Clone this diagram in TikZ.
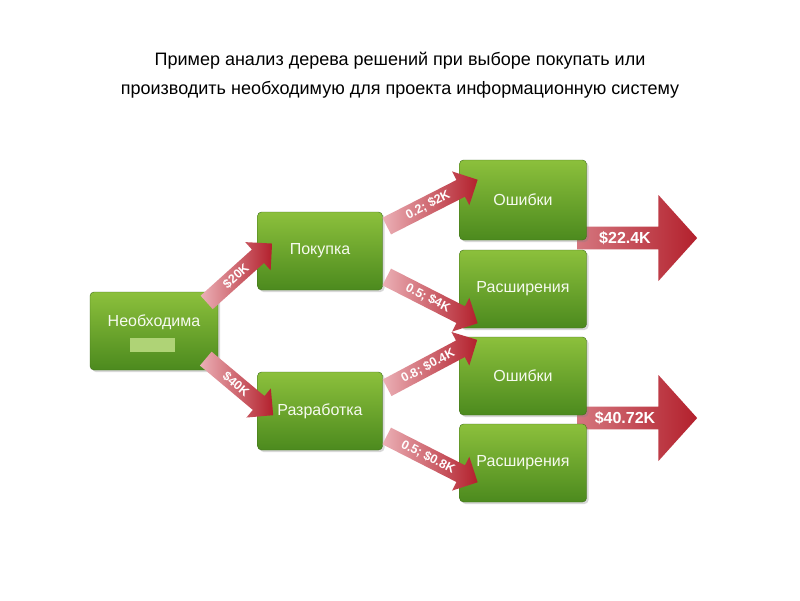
\documentclass[tikz,border=0pt]{standalone}
\usepackage{fontspec}
\setmainfont{Liberation Sans}
\usetikzlibrary{shapes.arrows,shadows}
\definecolor{gtop}{HTML}{8CC03C}
\definecolor{gbot}{HTML}{4C8A1E}
\definecolor{apink}{HTML}{EBB0B6}
\definecolor{ared}{HTML}{B3202C}
\tikzset{
  box/.style={rounded corners=4pt, top color=gtop, bottom color=gbot, draw=gbot!80!black, line width=0.4pt,
    drop shadow={opacity=0.3,shadow xshift=2pt,shadow yshift=-2pt}, text=white!92!gtop, font=\fontsize{16}{18}\selectfont, inner sep=0pt},
  sarrow/.style={single arrow, single arrow head extend=8pt, single arrow tip angle=90, left color=apink, right color=ared, draw=none,
    minimum width=38pt, minimum height=#1, inner sep=2pt, text=white, font=\fontsize{12.5}{12.5}\selectfont\bfseries},
  barrow/.style={single arrow, single arrow head extend=24pt, single arrow tip angle=96, left color=apink!60!ared, right color=ared, draw=none,
    minimum width=86pt, minimum height=120pt, inner sep=2pt, text=white, font=\fontsize{16}{16}\selectfont\bfseries},
}
\begin{document}
\begin{tikzpicture}[x=1pt,y=-1pt]
\useasboundingbox[fill=white] (0,0) rectangle (800,600);
\node (title) at (400,75) [align=center, font=\fontsize{18}{29}\selectfont] {Пример анализ дерева решений при выборе покупать или\\производить необходимую для проекта информационную систему};
% big arrows
\node (b1) [barrow] at (632,238) {\hspace*{-14pt}\$22.4K};
\node (b2) [barrow] at (632,418) {\hspace*{-14pt}\$40.72K};
% boxes
\node (n) [box, minimum width=128pt, minimum height=78pt] at (154,331) {};
\node (nt) at (154,322) [text=white!92!gtop, font=\fontsize{16}{18}\selectfont] {Необходима};
\node (nr) [fill=gtop!70!white, minimum width=45pt, minimum height=14pt, inner sep=0pt] at (152,345) {};
\node (p) [box, minimum width=125pt, minimum height=78pt] at (320,251) {Покупка};
\node (r) [box, minimum width=125pt, minimum height=78pt] at (320,411) {Разработка};
\node (o1) [box, minimum width=127pt, minimum height=80pt] at (523,200) {Ошибки};
\node (e1) [box, minimum width=127pt, minimum height=78pt] at (523,289) {Расширения};
\node (o2) [box, minimum width=127pt, minimum height=78pt] at (523,376) {Ошибки};
\node (e2) [box, minimum width=127pt, minimum height=78pt] at (523,463) {Расширения};
% small arrows
\node (a1) [sarrow=88pt, rotate=42] at (236,276) {\$20K};
\node (a2) [sarrow=88pt, rotate=-40] at (236,384) {\$40K};
\node (a3) [sarrow=102pt, rotate=27] at (428,205) {0.2; \$2K};
\node (a4) [sarrow=102pt, rotate=-27] at (428,298) {0.5; \$4K};
\node (a5) [sarrow=102pt, rotate=28] at (428,366) {0.8; \$0.4K};
\node (a6) [sarrow=102pt, rotate=-27] at (428,457) {0.5; \$0.8K};
\end{tikzpicture}
\end{document}
